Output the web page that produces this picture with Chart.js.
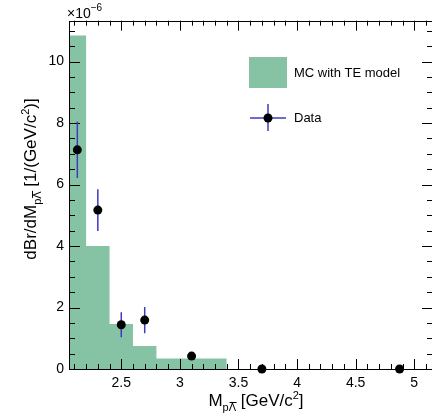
<!DOCTYPE html>
<html>
<head>
<meta charset="utf-8">
<script src="https://cdn.jsdelivr.net/npm/chart.js@4/dist/chart.umd.min.js"></script>
<style>
  body { margin: 0; background: #fff; overflow: hidden; }
  #wrap { width: 432px; height: 419px; overflow: hidden; }
  canvas { display: block; }
</style>
</head>
<body>
<div id="wrap"><canvas id="chart" width="440" height="419"></canvas></div>
<script>
// histogram (MC with TE model), values in units of 1e-6
const binEdges = [2.054, 2.2, 2.4, 2.6, 2.8, 3.0, 3.2, 3.4];
const mcValues = [10.85, 4.0, 1.46, 0.75, 0.34, 0.34, 0.34];

// data points with errors
const dataX = [2.125, 2.3, 2.5, 2.7, 3.1, 3.7, 4.875];
const dataY = [7.13, 5.17, 1.44, 1.59, 0.42, 0, 0];
const dataErr = [0.92, 0.68, 0.41, 0.43, 0, 0, 0];

const xTicks = [2.5, 3, 3.5, 4, 4.5, 5];
const yTicks = [0, 2, 4, 6, 8, 10];

const FONT = "'Liberation Sans', Arial, sans-serif";
const GREEN = "rgb(134,195,165)";
const BLUE = "rgb(60,60,190)";

const histPoints = binEdges.map((x, i) => ({ x: x, y: i < mcValues.length ? mcValues[i] : 0 }));
const dataPoints = dataX.map((x, i) => ({ x: x, y: dataY[i] }));

// draws text pieces one after another, with sub/superscripts
function drawRich(ctx, parts, x, y, align) {
  let total = 0;
  parts.forEach((p) => {
    ctx.font = p.size + "px " + FONT;
    p.w = ctx.measureText(p.t).width;
    total += p.w;
  });
  let cx = align === "center" ? x - total / 2 : x;
  parts.forEach((p) => {
    ctx.font = p.size + "px " + FONT;
    ctx.fillText(p.t, cx, y + (p.dy || 0));
    if (p.bar) {
      ctx.fillRect(cx + p.bar[0], y + (p.dy || 0) - p.bar[1], p.bar[2], 1);
    }
    cx += p.w;
  });
}

const framePlugin = {
  id: "frame",
  beforeDatasetDraw(chart, args) {
    if (args.index !== 0) return;
    const { ctx, chartArea: a, scales } = chart;
    const xs = scales.x, ys = scales.y;
    ctx.save();
    ctx.strokeStyle = "#000";
    ctx.lineWidth = 1;
    ctx.beginPath();
    // x ticks, top and bottom
    for (let i = 21; i <= 51; i++) {
      const v = i / 10;
      const px = Math.round(xs.getPixelForValue(v)) + 0.5;
      const major = i % 5 === 0;
      const len = major ? 10 : 5;
      ctx.moveTo(px, a.bottom);
      ctx.lineTo(px, a.bottom - len);
      ctx.moveTo(px, a.top);
      ctx.lineTo(px, a.top + len);
    }
    // y ticks, left and right
    for (let i = 0; i <= 22; i++) {
      const v = i / 2;
      const py = Math.round(ys.getPixelForValue(v)) + 0.5;
      const major = i % 4 === 0;
      const len = major ? 11 : 6;
      ctx.moveTo(a.left, py);
      ctx.lineTo(a.left + len, py);
      ctx.moveTo(a.right, py);
      ctx.lineTo(a.right - len, py);
    }
    ctx.stroke();
    ctx.strokeRect(Math.round(a.left) + 0.5, Math.round(a.top) + 0.5, Math.round(a.right - a.left), Math.round(a.bottom - a.top));

    // error bars
    ctx.strokeStyle = BLUE;
    ctx.lineWidth = 1.5;
    ctx.beginPath();
    dataX.forEach((x, i) => {
      if (!dataErr[i]) return;
      const px = xs.getPixelForValue(x);
      ctx.moveTo(px, ys.getPixelForValue(dataY[i] + dataErr[i]));
      ctx.lineTo(px, ys.getPixelForValue(dataY[i] - dataErr[i]));
    });
    ctx.stroke();
    ctx.restore();
  },
  afterDraw(chart) {
    const ctx = chart.ctx;
    ctx.save();
    ctx.fillStyle = "#000";
    ctx.textBaseline = "alphabetic";

    // exponent
    drawRich(ctx, [
      { t: "\u00d710", size: 14 },
      { t: "\u22126", size: 10, dy: -7 },
    ], 67, 18, "left");

    // x title
    drawRich(ctx, [
      { t: "M", size: 17 },
      { t: "p\u039b", size: 11, dy: 5, bar: [7, 9, 7] },
      { t: " [GeV/c", size: 17 },
      { t: "2", size: 11, dy: -7 },
      { t: "]", size: 17 },
    ], 256, 406, "center");

    // y title
    ctx.save();
    ctx.translate(36, 179);
    ctx.rotate(-Math.PI / 2);
    drawRich(ctx, [
      { t: "dBr/dM", size: 17 },
      { t: "p\u039b", size: 11, dy: 5, bar: [7, 9, 7] },
      { t: " [1/(GeV/c", size: 17 },
      { t: "2", size: 11, dy: -7 },
      { t: ")]", size: 17 },
    ], 0, 0, "center");
    ctx.restore();

    // legend
    ctx.fillStyle = GREEN;
    ctx.fillRect(249, 57, 38, 31);
    ctx.strokeStyle = BLUE;
    ctx.lineWidth = 1.5;
    ctx.beginPath();
    ctx.moveTo(250, 118);
    ctx.lineTo(286, 118);
    ctx.moveTo(268, 104);
    ctx.lineTo(268, 131);
    ctx.stroke();
    ctx.fillStyle = "#000";
    ctx.beginPath();
    ctx.arc(268, 118, 4.5, 0, Math.PI * 2);
    ctx.fill();
    ctx.font = "13px " + FONT;
    ctx.textBaseline = "middle";
    ctx.fillText("MC with TE model", 294, 73);
    ctx.fillText("Data", 294, 118);
    ctx.restore();
  },
};

new Chart(document.getElementById("chart"), {
  type: "scatter",
  data: {
    datasets: [
      {
        label: "Data",
        data: dataPoints,
        pointRadius: 4.5,
        pointHoverRadius: 4.5,
        backgroundColor: "#000",
        borderColor: "#000",
        borderWidth: 0,
        clip: false,
      },
      {
        type: "line",
        label: "MC with TE model",
        data: histPoints,
        stepped: true,
        fill: "origin",
        backgroundColor: GREEN,
        borderWidth: 0,
        borderColor: "rgba(0,0,0,0)",
        pointRadius: 0,
        tension: 0,
      },
    ],
  },
  options: {
    responsive: false,
    animation: false,
    devicePixelRatio: 1,
    layout: { padding: { left: 0, top: 20.7, right: 7, bottom: 0 } },
    plugins: {
      legend: { display: false },
      tooltip: { enabled: false },
    },
    scales: {
      x: {
        type: "linear",
        min: 2.054,
        max: 5.16,
        afterBuildTicks: (s) => { s.ticks = xTicks.map((v) => ({ value: v })); },
        afterFit: (s) => { s.height = 50; },
        grid: { display: false, drawTicks: false },
        border: { display: false },
        ticks: { color: "#000", font: { family: FONT, size: 14 }, padding: 6, maxRotation: 0, callback: (v) => String(v) },
      },
      y: {
        type: "linear",
        min: 0,
        max: 11.33,
        afterBuildTicks: (s) => { s.ticks = yTicks.map((v) => ({ value: v })); },
        afterFit: (s) => { s.width = 69; },
        grid: { display: false, drawTicks: false },
        border: { display: false },
        ticks: { color: "#000", font: { family: FONT, size: 14 }, padding: 5, callback: (v) => String(v) },
      },
    },
  },
  plugins: [framePlugin],
});
</script>
</body>
</html>
